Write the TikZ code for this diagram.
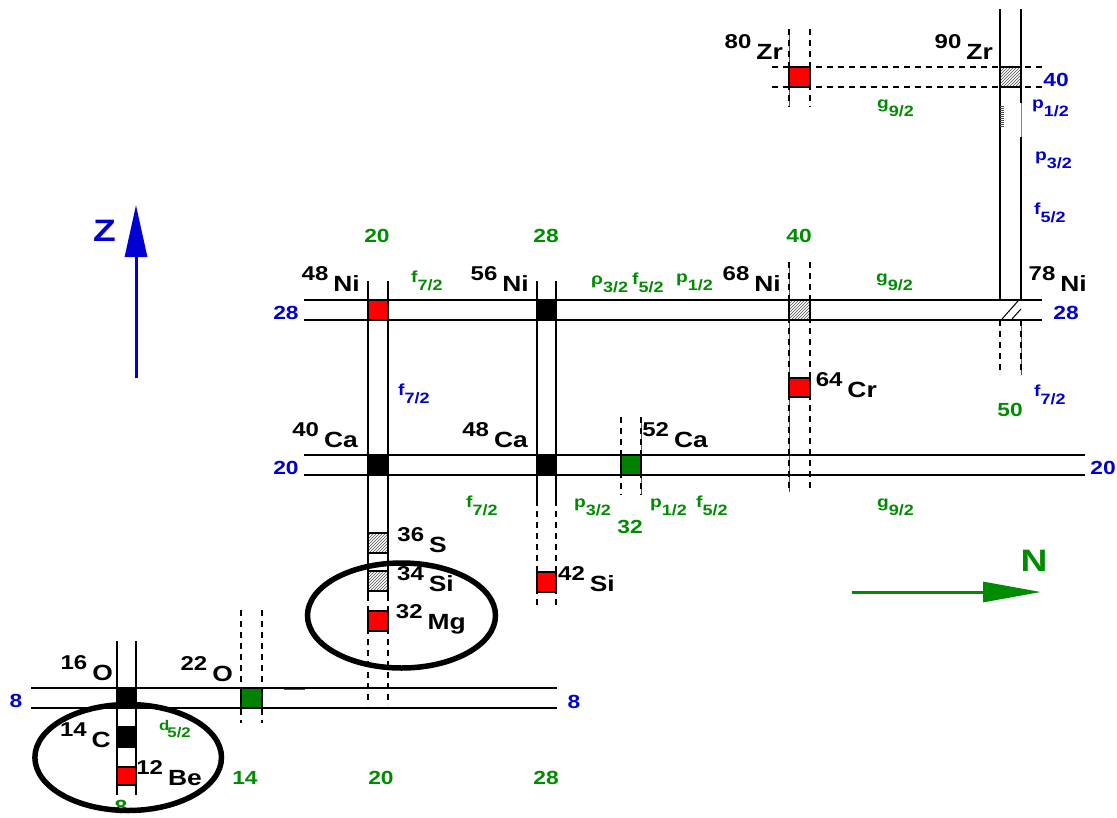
\documentclass[tikz,border=0pt]{standalone}
\usepackage{fontspec}
\setmainfont[FakeStretch=1.2]{Liberation Sans}
\usetikzlibrary{arrows.meta,patterns}
\definecolor{myblue}{RGB}{0,0,210}
\definecolor{mygreen}{RGB}{0,140,0}
\definecolor{boxgreen}{RGB}{0,130,0}
\definecolor{myred}{RGB}{255,0,0}
\newcommand{\nuc}[2]{{\fontsize{20}{20}\selectfont\raisebox{11pt}{#1}}\hspace{5pt}{\fontsize{22}{22}\selectfont #2}}
\newcommand{\orb}[2]{{\fontsize{16}{16}\selectfont #1}{\fontsize{15}{15}\selectfont\raisebox{-8pt}{#2}}}
\begin{document}
\begin{tikzpicture}[x=1pt,y=-1pt,font=\bfseries,
  band/.style={line width=2pt},
  dband/.style={line width=2pt,dash pattern=on 6pt off 5pt},
  gthin/.style={mygreen,line width=0.6pt},
  redbox/.style={fill=myred,draw=black,line width=1.5pt},
  blackbox/.style={fill=black,draw=black,line width=1.5pt},
  greenbox/.style={fill=boxgreen,draw=black,line width=1.5pt},
  hatchbox/.style={pattern=north east lines,pattern color=black!70,draw=black,line width=1.5pt},
  ell/.style={line width=5.5pt},
  nuclab/.style={anchor=base east,inner sep=0pt,text=black},
  bmagic/.style={inner sep=0pt,text=myblue,font=\bfseries\fontsize{19}{19}\selectfont},
  gmagic/.style={inner sep=0pt,text=mygreen,font=\bfseries\fontsize{19}{19}\selectfont},
  borb/.style={anchor=base west,inner sep=0pt,text=myblue},
  gorb/.style={anchor=base west,inner sep=0pt,text=mygreen},
  axisarrow/.style={line width=3pt,-{Triangle[length=52pt,width=22pt]}}]
\clip (0,0) rectangle (1117,817);
\fill[white] (0,0) rectangle (1117,817);

% thin green guides under some dashed lines
\draw[gthin] (789,29) -- (789,107);
\draw[gthin] (789,262) -- (789,492);
\draw[gthin] (641,417) -- (641,495);
\draw[gthin] (1021,320) -- (1021,375);

% horizontal bands
\draw[band] (304,300) -- (1042,300) (304,320) -- (1042,320);
\draw[band] (304,455) -- (1085,455) (304,475) -- (1085,475);
\draw[band] (31,688) -- (557,688) (31,708) -- (557,708);
\draw[dband] (772,67) -- (1043,67) (772,87) -- (1043,87);
\draw[mygreen,line width=1pt] (284,689) -- (305,689);

% vertical bands
\draw[band] (117,641) -- (117,795) (136,641) -- (136,795);
\draw[dband] (241,610) -- (241,723) (262,610) -- (262,723);
\draw[band] (368,281) -- (368,595) (388,281) -- (388,595);
\draw[dband] (368,595) -- (368,705) (388,595) -- (388,705);
\draw[band] (537,281) -- (537,500) (556,281) -- (556,500);
\draw[dband] (537,500) -- (537,607) (556,500) -- (556,607);
\draw[dband] (621,417) -- (621,495) (641,417) -- (641,495);
\draw[dband] (789,262) -- (789,492) (810,262) -- (810,492);
\draw[dband] (789,29) -- (789,107) (810,29) -- (810,107);
\draw[band] (1000,9) -- (1000,300) (1021,9) -- (1021,103) (1021,137) -- (1021,300);
\draw[gray,line width=0.8pt] (1021,103) -- (1021,137);
\foreach \yy in {106,108,...,126} \draw[black!70,line width=0.7pt] (1000,\yy) -- (1004,\yy);
\draw[dband] (1000,320) -- (1000,375) (1021,320) -- (1021,375);

% boxes
\filldraw[redbox] (789,67) rectangle (810,87);
\filldraw[hatchbox] (1000,67) rectangle (1021,87);
\filldraw[redbox] (368,300) rectangle (388,320);
\filldraw[blackbox] (537,300) rectangle (556,320);
\filldraw[hatchbox] (789,300) rectangle (810,320);
\draw[line width=1pt] (1002,319) -- (1018,301) (1012,319) -- (1021,309);
\filldraw[redbox] (789,378) rectangle (810,397);
\filldraw[blackbox] (368,455) rectangle (388,475);
\filldraw[blackbox] (537,455) rectangle (556,475);
\filldraw[greenbox] (621,455) rectangle (641,475);
\filldraw[hatchbox] (368,533) rectangle (388,553);
\filldraw[hatchbox] (368,571) rectangle (388,591);
\filldraw[redbox] (368,611) rectangle (388,631);
\filldraw[redbox] (537,572) rectangle (556,592);
\filldraw[blackbox] (117,688) rectangle (136,708);
\filldraw[blackbox] (117,727) rectangle (136,747);
\filldraw[redbox] (117,767) rectangle (136,785);
\filldraw[greenbox] (241,688) rectangle (262,708);

% nuclide labels
\node[nuclab] (zr80) at (783,59) {\nuc{80}{Zr}};
\node[nuclab] (zr90) at (993,59) {\nuc{90}{Zr}};
\node[nuclab] (ni48) at (360,291) {\nuc{48}{Ni}};
\node[nuclab] (ni56) at (529,291) {\nuc{56}{Ni}};
\node[nuclab] (ni68) at (781,291) {\nuc{68}{Ni}};
\node[nuclab] (ni78) at (1087,291) {\nuc{78}{Ni}};
\node[nuclab] (cr64) at (877,397) {\nuc{64}{Cr}};
\node[nuclab] (ca40) at (358,447) {\nuc{40}{Ca}};
\node[nuclab] (ca48) at (528,447) {\nuc{48}{Ca}};
\node[nuclab] (ca52) at (708,447) {\nuc{52}{Ca}};
\node[nuclab] (s36) at (447,552) {\nuc{36}{S}};
\node[nuclab] (si34) at (454,591) {\nuc{34}{Si}};
\node[nuclab] (mg32) at (466,629) {\nuc{32}{Mg}};
\node[nuclab] (si42) at (615,591) {\nuc{42}{Si}};
\node[nuclab] (o16) at (113,680) {\nuc{16}{O}};
\node[nuclab] (o22) at (233,681) {\nuc{22}{O}};
\node[nuclab] (c14) at (111,747) {\nuc{14}{C}};
\node[nuclab] (be12) at (202,785) {\nuc{12}{Be}};

% magic numbers
\node[bmagic] (z40) at (1056,80) {40};
\node[bmagic] (z28l) at (286,313) {28};
\node[bmagic] (z28r) at (1066,313) {28};
\node[bmagic] (z20l) at (286,468) {20};
\node[bmagic] (z20r) at (1103,468) {20};
\node[bmagic] (z8l) at (16,701) {8};
\node[bmagic] (z8r) at (574,702) {8};
\node[gmagic] (n20t) at (377,236) {20};
\node[gmagic] (n28t) at (546,236) {28};
\node[gmagic] (n40t) at (799,236) {40};
\node[gmagic] (n50) at (1010,410) {50};
\node[gmagic] (n32) at (630,527) {32};
\node[gmagic] (n14) at (245,778) {14};
\node[gmagic] (n20b) at (381,778) {20};
\node[gmagic] (n28b) at (546,778) {28};
\node[gmagic] (n8b) at (121,807) {8};

% orbitals
\node[gorb] (o1) at (411,282) {\orb{f}{7/2}};
\node[gorb] (o2) at (591,284) {\orb{ρ}{3/2}};
\node[gorb] (o3) at (632,284) {\orb{f}{5/2}};
\node[gorb] (o4) at (676,282) {\orb{p}{1/2}};
\node[gorb] (o5) at (876,282) {\orb{g}{9/2}};
\node[gorb] (o6) at (877,108) {\orb{g}{9/2}};
\node[gorb] (o7) at (466,507) {\orb{f}{7/2}};
\node[gorb] (o8) at (574,507) {\orb{p}{3/2}};
\node[gorb] (o9) at (650,507) {\orb{p}{1/2}};
\node[gorb] (o10) at (696,507) {\orb{f}{5/2}};
\node[gorb] (o11) at (877,507) {\orb{g}{9/2}};
\node[gorb] (o12) at (159,730) {{\fontsize{14}{14}\selectfont d}\hspace{-2pt}{\fontsize{14}{14}\selectfont\raisebox{-7pt}{5/2}}};
\node[borb] (b1) at (1032,108) {\orb{p}{1/2}};
\node[borb] (b2) at (1035,160) {\orb{p}{3/2}};
\node[borb] (b3) at (1034,214) {\orb{f}{5/2}};
\node[borb] (b4) at (1034,396) {\orb{f}{7/2}};
\node[borb] (b5) at (398,395) {\orb{f}{7/2}};

% ellipses
\draw[ell] (401.5,615.5) ellipse [x radius=94, y radius=52.5];
\draw[ell] (128.2,757.5) ellipse [x radius=93.3, y radius=53];

% axes
\coordinate (zs) at (136,378);
\coordinate (ze) at (136,205);
\draw[axisarrow,myblue] (zs) -- (ze);
\node[inner sep=0pt,text=myblue,font=\bfseries\fontsize{31}{31}\selectfont] (zlab) at (104.5,231) {Z};
\coordinate (ns) at (852,592);
\coordinate (ne) at (1041,592);
\draw[line width=3pt,mygreen,-{Triangle[length=58pt,width=20pt]}] (ns) -- (ne);
\node[inner sep=0pt,text=mygreen,font=\bfseries\fontsize{31}{31}\selectfont] (nlab) at (1034,561) {N};
\end{tikzpicture}
\end{document}
